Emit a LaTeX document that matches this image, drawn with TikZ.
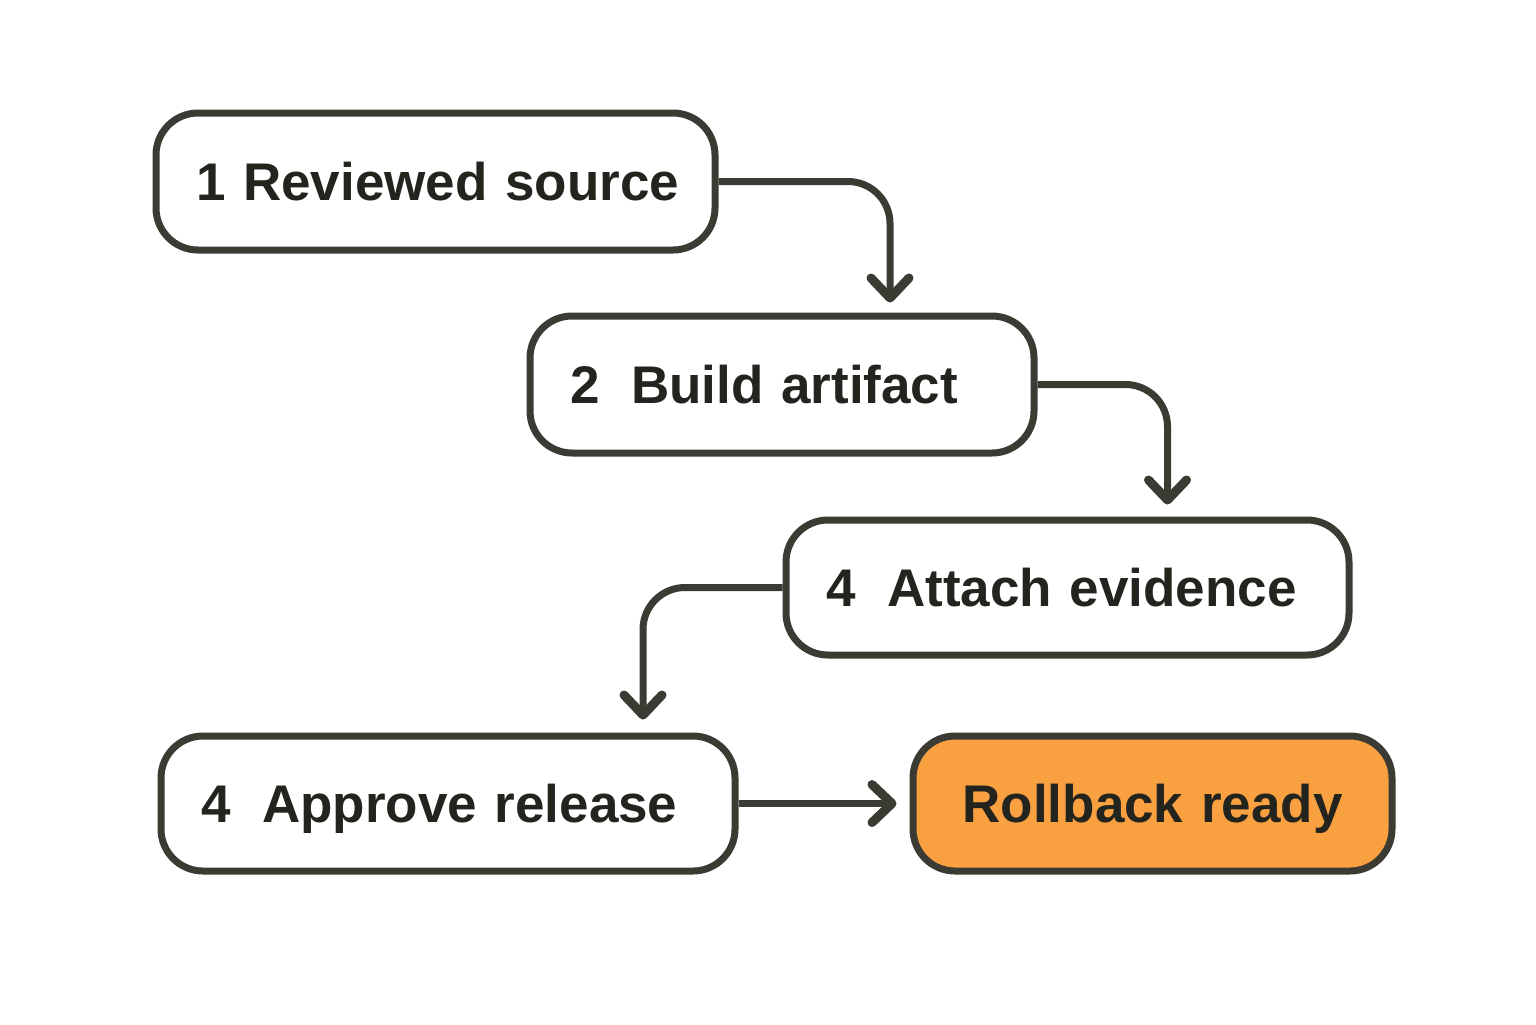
\documentclass[tikz,border=0pt]{standalone}
\usepackage{fontspec}
\setmainfont{Liberation Sans}
\usetikzlibrary{arrows.meta}
\definecolor{linec}{HTML}{3B3B33}
\definecolor{textc}{HTML}{24241F}
\definecolor{orangec}{HTML}{F9A041}
\tikzset{
  stepbox/.style={draw=linec, line width=3.5pt, rounded corners=21pt, fill=white,
    inner xsep=20pt, inner ysep=0pt, align=left, text=textc,
    font=\bfseries\fontsize{26.5}{30}\selectfont, text height=19pt, text depth=0pt},
  flow/.style={draw=linec, line width=3.5pt, rounded corners=21pt,
    -{Straight Barb[length=10pt,width=19pt,line width=4.5pt,line cap=round,line join=round]}}
}
\newcommand{\numgap}{\hspace{7pt}}
\begin{document}
\begin{tikzpicture}[x=0.5pt,y=-0.5pt]
\useasboundingbox (0,0) rectangle (1536,1024);
\node[stepbox, minimum width=279.5pt, minimum height=68.5pt, text width=239.5pt] (b1) at (435.5,181.5) {\mbox{1 Reviewed source}};
\node[stepbox, minimum width=252pt, minimum height=68.5pt, text width=212pt] (b2) at (782,384.5) {\mbox{2\numgap{} Build artifact}};
\node[stepbox, minimum width=281.5pt, minimum height=67.5pt, text width=241.5pt] (b3) at (1067.5,587.5) {\mbox{4\numgap{} Attach evidence}};
\node[stepbox, minimum width=287pt, minimum height=67.5pt, text width=247pt] (b4) at (448,803.5) {\mbox{4\numgap{} Approve release}};
\node[stepbox, fill=orangec, align=center, minimum width=239.5pt, minimum height=67.5pt, text width=199.5pt] (b5) at (1152.5,803.5) {\mbox{Rollback ready}};
\draw[flow, shorten >=5pt] (b1.east) -| ([xshift=54pt]b2.north);
\draw[flow, shorten >=6pt] (b2.east) -| ([xshift=50pt]b3.north);
\draw[flow, shorten >=6.5pt] (b3.west) -| ([xshift=97.5pt]b4.north);
\draw[flow, shorten >=6.5pt] (b4.east) -- (b5.west);
\end{tikzpicture}
\end{document}
